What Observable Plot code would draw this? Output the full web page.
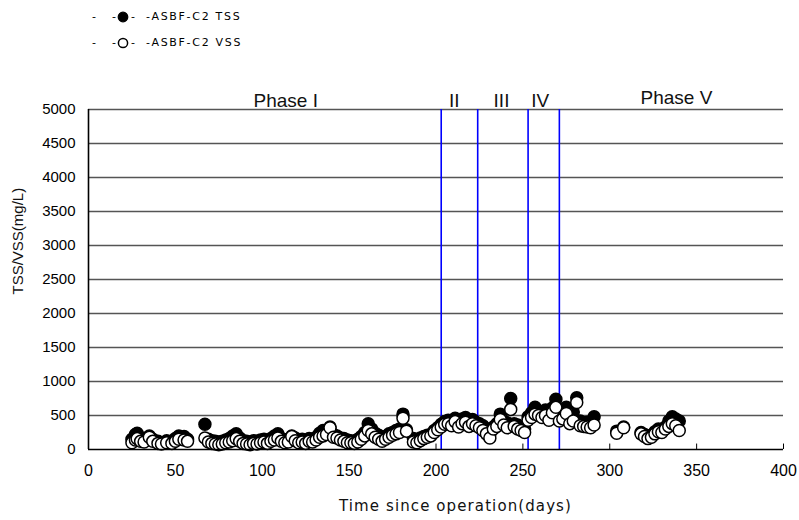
<!DOCTYPE html>
<html><head><meta charset="utf-8">
<script src="https://cdn.jsdelivr.net/npm/d3@7"></script>
<script src="https://cdn.jsdelivr.net/npm/@observablehq/plot@0.6"></script>
<style>
body{margin:0;background:#fff;}
#wrap{position:relative;width:799px;height:520px;overflow:hidden;}
.leg{position:absolute;font-family:"DejaVu Sans";font-size:11px;line-height:14px;letter-spacing:1.7px;color:#000;white-space:pre;}
.mk{position:absolute;}
</style></head><body>
<div id="wrap">
  <div class="leg" style="left:92px;top:10px">-</div>
  <div class="leg" style="left:112px;top:10px">-</div>
  <svg class="mk" style="left:117px;top:11px" width="12" height="12"><circle cx="6" cy="6" r="4.8" fill="black" stroke="black" stroke-width="1.2"/></svg>
  <div class="leg" style="left:131px;top:10px">-</div>
  <div class="leg" style="left:146px;top:10px">-ASBF-C2 TSS</div>
  <div class="leg" style="left:92px;top:36px">-</div>
  <div class="leg" style="left:112px;top:36px">-</div>
  <svg class="mk" style="left:117px;top:37px" width="12" height="12"><circle cx="6" cy="6" r="4.6" fill="white" stroke="black" stroke-width="1.5"/></svg>
  <div class="leg" style="left:131px;top:36px">-</div>
  <div class="leg" style="left:146px;top:36px">-ASBF-C2 VSS</div>
</div>
<script>
// Time since operation (days)
const days = [25,27,28,30,32,35,37,40,42,45,48,50,52,55,57,
  67,69,71,73,75,77,79,81,83,85,87,89,91,93,95,97,99,101,103,105,107,109,111,113,115,117,119,121,123,125,127,129,131,133,135,137,139,141,143,145,147,149,151,153,155,157,159,161,163,165,167,169,171,173,175,177,179,181,183,
  187,189,191,193,195,197,199,201,
  203,205,207,209,211,213,215,217,219,221,223,225,227,229,231,233,235,237,239,241,243,245,247,249,251,
  253,255,257,259,261,263,265,267,269,271,273,275,277,279,281,283,285,287,289,291,
  304,308,318,320,322,324,326,328,330,332,334,336,338,340];
// ASBF-C2 TSS (mg/L)
const tss = [150,220,240,170,160,200,150,120,100,130,120,160,200,190,150,
  370,150,130,120,110,120,140,160,200,230,170,130,120,110,130,120,140,150,130,160,200,230,160,140,150,200,170,140,150,130,160,140,180,240,280,260,330,220,200,170,160,140,130,120,150,190,250,380,300,240,210,170,190,230,250,280,300,520,290,
  160,140,170,190,210,220,280,320,
  370,410,430,420,460,400,450,470,420,440,400,380,350,300,220,330,380,520,420,390,750,380,360,330,300,
  480,540,620,560,530,580,520,610,740,470,560,620,500,550,760,420,380,400,380,480,
  270,330,250,220,200,210,260,300,280,330,420,480,450,420];
// ASBF-C2 VSS (mg/L)
const vss = [100,140,160,120,110,180,120,90,80,100,90,120,150,140,120,
  170,110,90,80,70,80,100,110,130,160,120,90,80,70,90,80,100,110,90,120,140,170,120,100,110,190,130,100,110,90,120,110,140,180,200,220,320,180,170,140,120,100,100,90,110,150,200,280,230,180,150,120,150,180,210,230,250,460,270,
  110,100,130,160,180,200,250,290,
  330,370,380,350,410,330,380,400,340,380,350,320,280,230,170,300,340,440,360,320,590,340,300,280,250,
  430,470,520,500,470,500,430,540,620,420,450,530,380,420,690,350,340,330,320,360,
  240,320,230,190,160,180,230,260,250,300,340,380,350,280];

const xTicks = [0,50,100,150,200,250,300,350,400];
const yTicks = [0,500,1000,1500,2000,2500,3000,3500,4000,4500,5000];
const phaseBounds = [203,224,253,271];
const phaseLabels = ["Phase I","II","III","IV"];
const phaseLabelDays = [113.5,210.5,237.7,260];
const phaseVLabel = ["Phase V"];
const phaseVDay = [338.4];

const data = days.map((d,i)=>({day:d, tss:tss[i], vss:vss[i]}));

const chart = Plot.plot({
  width:799, height:520,
  marginLeft:88, marginRight:16, marginTop:109, marginBottom:71,
  style:{fontFamily:"Liberation Sans, Arial, sans-serif", background:"white", color:"black"},
  x:{domain:[0,400]},
  y:{domain:[0,5000]},
  marks:[
    Plot.ruleY(yTicks.filter(v=>v>0), {stroke:"#555", strokeWidth:1.3}),
    Plot.ruleX(phaseBounds, {y1:0, y2:5000, stroke:"#0000ff", strokeWidth:1.6}),
    Plot.axisX({ticks:xTicks, tickSize:0, tickPadding:15, tickFormat:d3.format("d"), label:null}),
    Plot.axisY({ticks:yTicks, tickSize:0, tickPadding:13, tickFormat:d3.format("d"), label:null}),
    Plot.ruleX(xTicks, {y1:0, y2:80, stroke:"black", strokeWidth:1}),
    Plot.dot(data, {x:"day", y:"tss", r:6, fill:"black", stroke:"black", strokeWidth:1.5}),
    Plot.dot(data, {x:"day", y:"vss", r:6, fill:"white", stroke:"black", strokeWidth:1.5}),
    Plot.ruleY([0], {stroke:"black", strokeWidth:1.6}),
    Plot.ruleX([0], {stroke:"black", strokeWidth:1.6}),
    Plot.text(phaseLabels, {x:(d,i)=>phaseLabelDays[i], y:()=>5000, text:d=>d, lineAnchor:"bottom", dy:-3, fontSize:19, fill:"#111"}),
    Plot.text(phaseVLabel, {x:(d,i)=>phaseVDay[i], y:()=>5000, text:d=>d, lineAnchor:"bottom", dy:-6, fontSize:19, fill:"#111"}),
    Plot.text(["TSS/VSS(mg/L)"], {frameAnchor:"left", dx:-70, dy:15, rotate:-90, fontSize:15, fill:"#111"}),
    Plot.text(["Time since operation(days)"], {frameAnchor:"bottom", dx:19.5, dy:61, fontSize:15, fontFamily:"DejaVu Sans", fill:"#111"})
  ]
});
d3.select(chart).style("position","absolute").style("left","0px").style("top","0px");
d3.select(chart).selectAll('g[aria-label="x-axis tick label"]').attr("font-size",16).selectAll("text").attr("font-size",16);
d3.select(chart).selectAll('g[aria-label="y-axis tick label"]').attr("font-size",15).selectAll("text").attr("font-size",15);
d3.select(chart).selectAll("text").filter(function(){return this.textContent==="Time since operation(days)";}).style("letter-spacing","1.1px");
const wrap = document.getElementById("wrap");
wrap.insertBefore(chart, wrap.firstChild);
</script>
</body></html>
